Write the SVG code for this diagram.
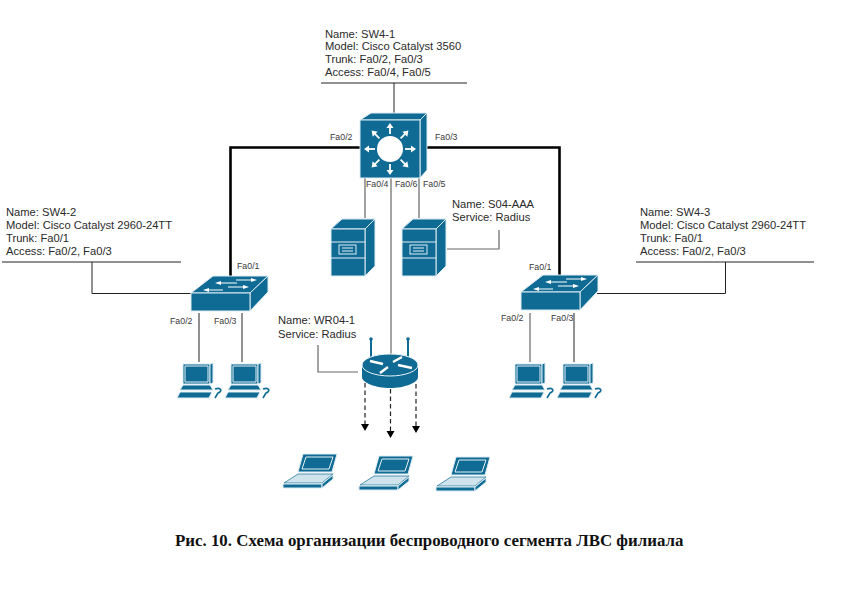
<svg xmlns="http://www.w3.org/2000/svg" width="868" height="609" viewBox="0 0 868 609">
<style>
text{font-family:"Liberation Sans",Arial,sans-serif;font-size:11.2px;fill:#2a2a2a}
.p{font-size:8.8px;fill:#3a3a3a}
.c{font-family:"Liberation Serif","Times New Roman",serif;font-size:16.87px;font-weight:bold;fill:#111}
.f{fill:#0f6a94;stroke:#dcecf3;stroke-width:1}
.n{fill:#0f6a94}
.w{fill:#fff;stroke:none}
.l{fill:none;stroke:#e6f1f6;stroke-width:1}
.a{fill:none;stroke:#fff;stroke-width:1.2}
.h{fill:#fff}
.t{fill:none;stroke:#222;stroke-width:1}
.g{fill:none;stroke:#666;stroke-width:1.2}
.k{fill:none;stroke:#000;stroke-width:2.6}
.d{fill:none;stroke:#222;stroke-width:1.2;stroke-dasharray:4.5 3}
</style>
<defs>
<g id="arr"><path d="M15 0H22" stroke="#fff" stroke-width="1.8" fill="none"/><path class="h" d="M21 -3.5L26 0L21 3.5z"/></g>
<g id="srv">
<path class="f" d="M0 10L11 0H44V47L34 57V10z"/><path class="f" d="M0 10H34L44 0H11z"/>
<rect class="f" x="0" y="10" width="34" height="47"/>
<path class="l" d="M0 23H34M0 39H34"/>
<rect x="8" y="26" width="17" height="9" fill="none" stroke="#dcecf3"/><path class="l" d="M11 29H22M11 32H22"/>
</g>
<g id="l2">
<path class="f" d="M0 17L22 0H77L59 17z"/><path class="f" d="M59 17L77 0V16L59 35z"/><rect class="f" x="0" y="17" width="59" height="18"/>
<path class="a" d="M29 7H46M45 4H62M17 14H32M37 11H54"/>
<path class="h" d="M24 7L30 5V9zM66 4L60 2V6zM12 14L18 12V16zM58 11L52 9V13z"/>
</g>
<g id="pc">
<path class="f" d="M3 0H30V20H3z"/><path class="f" d="M30 0L33 -1V19L30 20z"/><path class="l" d="M5 2H28V18H5z"/>
<path class="f" d="M3 21H30L33 26H0z"/><path class="f" d="M0 28H32L29 34H-3z"/>
<path fill="none" stroke="#0f6a94" stroke-width="1.6" d="M35 25C41 23 43 27 38 29L35 34"/>
</g>
<g id="lap">
<path class="f" d="M0 0H34L29 18H-5z"/><path class="l" d="M3 3H30L26 15H-1z"/>
<path d="M-5 20H30L19 29H-19z" fill="#cfe3ec" stroke="#0f6a94" stroke-width=".7"/>
<path class="f" d="M-20 30H19V34H-20z"/><path class="f" d="M19 30L30 21V25L19 34z"/>
</g>
</defs>

<g id="connectors">
<path class="t" d="M321 83H467M394 83V120"/>
<path class="k" d="M360 147.500H230.500V293M427 147.500H559.500V275"/>
<path class="g" d="M365 178V218M419 178V218M391 178V354"/>
<path class="g" d="M447 249H499V230"/>
<path class="t" d="M2 262H181M92 262V293.500H191"/>
<path class="t" d="M636 262H814M725.500 262V293.500H597"/>
<path class="t" d="M199 313V362M242 313V362M574 313V362"/>
<path class="g" d="M530 313V362"/>
<path class="g" d="M318 345V372H358"/>
<path class="d" d="M365 383V424M390.500 389V431M416 384V426"/>
<path fill="#000" d="M361 424H369L365 431zM386.500 431H394.500L390.500 438zM412 426H420L416 433z"/>
</g>

<g id="sw4-1">
<path class="f" d="M360 120L371 113H427L420 120z"/><path class="f" d="M420 120L427 113V170L420 178z"/>
<rect class="f" x="360" y="120" width="60" height="58"/>
<circle class="w" cx="390" cy="149" r="13"/>
<use href="#arr" transform="translate(390,149)"/><use href="#arr" transform="translate(390,149) rotate(45)"/><use href="#arr" transform="translate(390,149) rotate(90)"/><use href="#arr" transform="translate(390,149) rotate(135)"/><use href="#arr" transform="translate(390,149) rotate(180)"/><use href="#arr" transform="translate(390,149) rotate(225)"/><use href="#arr" transform="translate(390,149) rotate(270)"/><use href="#arr" transform="translate(390,149) rotate(315)"/>
</g>
<g id="srv-1"><use href="#srv" x="331" y="219"/></g>
<g id="s04-aaa"><use href="#srv" x="402" y="219"/></g>
<g id="sw4-2"><use href="#l2" x="191" y="276"/></g>
<g id="sw4-3"><use href="#l2" x="521" y="275"/></g>
<g id="pc-1"><use href="#pc" x="180" y="364"/></g>
<g id="pc-2"><use href="#pc" x="228" y="364"/></g>
<g id="pc-3"><use href="#pc" x="512" y="364"/></g>
<g id="pc-4"><use href="#pc" x="560" y="364"/></g>
<g id="wr04-1">
<path d="M371 340V358M408 340V358" stroke="#0f6a94" stroke-width="2" fill="none"/>
<circle class="n" cx="371" cy="339" r="1.800"/><circle class="n" cx="408" cy="339" r="1.800"/>
<path class="n" d="M362 365V377C362 383 376 388 390 388C404 388 418 383 418 377V365z"/>
<ellipse cx="390" cy="365" rx="28" ry="11" fill="#0f6a94" stroke="#e8f3f8"/>
<path d="M370 361L383 364M398 365L412 368M380 373L388 367M393 362L402 357" stroke="#fff" stroke-width="2.400" fill="none"/>
</g>
<g id="lap-1"><use href="#lap" x="303" y="454"/></g>
<g id="lap-2"><use href="#lap" x="379" y="456"/></g>
<g id="lap-3"><use href="#lap" x="456" y="457"/></g>

<g id="labels">
<text x="325" y="38">Name: SW4-1</text><text x="325" y="50">Model: Cisco Catalyst 3560</text><text x="325" y="63">Trunk: Fa0/2, Fa0/3</text><text x="325" y="76">Access: Fa0/4, Fa0/5</text>
<text x="6" y="216">Name: SW4-2</text><text x="6" y="229">Model: Cisco Catalyst 2960-24TT</text><text x="6" y="242">Trunk: Fa0/1</text><text x="6" y="255">Access: Fa0/2, Fa0/3</text>
<text x="640" y="216">Name: SW4-3</text><text x="640" y="229">Model: Cisco Catalyst 2960-24TT</text><text x="640" y="242">Trunk: Fa0/1</text><text x="640" y="255">Access: Fa0/2, Fa0/3</text>
<text x="452" y="208">Name: S04-AAA</text><text x="452" y="221">Service: Radius</text>
<text x="278" y="324">Name: WR04-1</text><text x="278" y="338">Service: Radius</text>
<text class="p" x="330" y="140">Fa0/2</text><text class="p" x="435" y="140">Fa0/3</text><text class="p" x="366" y="187">Fa0/4</text><text class="p" x="395" y="187">Fa0/6</text><text class="p" x="423" y="187">Fa0/5</text>
<text class="p" x="237" y="269">Fa0/1</text><text class="p" x="170" y="324">Fa0/2</text><text class="p" x="214" y="324">Fa0/3</text>
<text class="p" x="529" y="270">Fa0/1</text><text class="p" x="501" y="321">Fa0/2</text><text class="p" x="551" y="321">Fa0/3</text>
<text class="c" x="175" y="546">Рис. 10. Схема организации беспроводного сегмента ЛВС филиала</text>
</g>
</svg>
